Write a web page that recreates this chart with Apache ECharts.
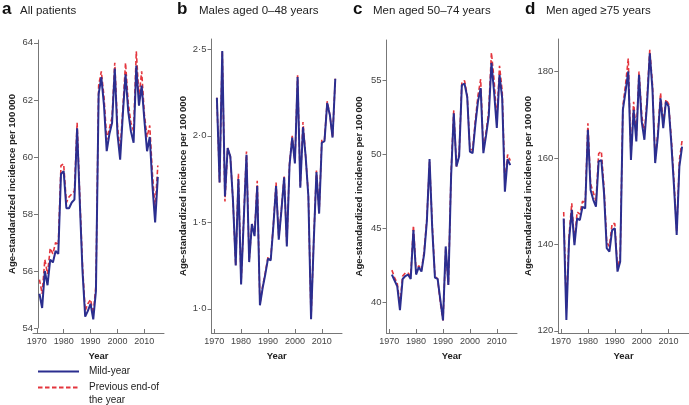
<!DOCTYPE html>
<html>
<head>
<meta charset="utf-8">
<title>Age-standardized incidence</title>
<script src="https://cdn.jsdelivr.net/npm/echarts@6.0.0/dist/echarts.min.js"></script>
<style>
    html, body { margin: 0; padding: 0; background: #fff; }
    #chart { width: 689px; height: 405px; }
</style>
</head>
<body>
<div id="chart"></div>
<script>
// years of observation (shared by every panel)
const years = [1971, 1972, 1973, 1974, 1975, 1976, 1977, 1978, 1979, 1980,
    1981, 1982, 1983, 1984, 1985, 1986, 1987, 1988, 1989, 1990,
    1991, 1992, 1993, 1994, 1995, 1996, 1997, 1998, 1999, 2000,
    2001, 2002, 2003, 2004, 2005, 2006, 2007, 2008, 2009, 2010,
    2011, 2012, 2013, 2014, 2015];
const yearTicks = [1970, 1980, 1990, 2000, 2010];

// a - all patients
const allMid = [55.2, 54.7, 56.0, 55.5, 56.4, 56.3, 56.7, 56.6, 59.4, 59.5,
    58.2, 58.2, 58.4, 58.5, 61.0, 58.4, 56.0, 54.4, 54.6, 54.85,
    54.3, 55.3, 62.2, 62.8, 61.8, 60.2, 60.8, 61.2, 63.1, 60.8,
    59.9, 61.5, 62.9, 61.6, 60.9, 60.5, 63.2, 61.8, 62.5, 61.3,
    60.2, 60.7, 59.0, 57.7, 59.3];
const allPrev = [55.7, 55.2, 56.4, 55.9, 56.8, 56.6, 57.0, 56.9, 59.7, 59.75,
    58.4, 58.6, 58.7, 58.8, 61.2, 58.6, 56.2, 54.6, 54.85, 55.0,
    54.5, 55.5, 62.5, 63.0, 62.1, 60.6, 61.0, 61.4, 63.3, 61.1,
    60.2, 61.7, 63.3, 61.9, 61.2, 60.9, 63.7, 62.1, 63.0, 61.5,
    60.7, 61.1, 59.4, 58.2, 59.7];
const allTicks = [54, 56, 58, 60, 62, 64];

// b - males aged 0-48
const youngMid = [2.22, 1.73, 2.49, 1.65, 1.93, 1.88, 1.62, 1.25, 1.75, 1.14,
    1.52, 1.89, 1.27, 1.49, 1.42, 1.71, 1.02, 1.12, 1.20, 1.29,
    1.28, 1.48, 1.71, 1.40, 1.57, 1.76, 1.36, 1.83, 1.99, 1.84,
    2.34, 1.70, 2.05, 1.88, 1.65, 0.94, 1.39, 1.79, 1.55, 1.96,
    1.97, 2.19, 2.12, 1.99, 2.33];
const youngPrev = [2.22, 1.73, 2.49, 1.62, 1.93, 1.88, 1.62, 1.25, 1.78, 1.15,
    1.53, 1.91, 1.28, 1.49, 1.43, 1.74, 1.03, 1.13, 1.21, 1.30,
    1.29, 1.49, 1.73, 1.41, 1.58, 1.77, 1.37, 1.84, 2.00, 1.85,
    2.35, 1.71, 2.08, 1.88, 1.66, 0.95, 1.40, 1.80, 1.56, 1.98,
    1.98, 2.20, 2.12, 1.99, 2.33];
const youngTicks = [1.0, 1.5, 2.0, 2.5];

// c - men aged 50-74
const midMid = [41.9, 41.5, 41.1, 39.5, 41.6, 41.8, 41.9, 41.6, 44.9, 41.9,
    42.4, 42.1, 43.3, 45.5, 49.7, 45.0, 41.7, 41.6, 40.2, 38.8,
    43.8, 41.2, 48.5, 52.8, 49.2, 49.9, 54.7, 54.8, 53.9, 50.2,
    50.1, 52.0, 53.6, 54.5, 50.1, 51.3, 52.6, 56.2, 54.2, 51.8,
    55.4, 53.8, 47.5, 49.7, 49.3];
const midPrev = [42.2, 41.7, 41.3, 39.9, 41.8, 42.0, 42.0, 41.8, 45.2, 42.1,
    42.5, 42.2, 43.5, 45.7, 49.5, 45.3, 41.8, 41.6, 40.0, 38.8,
    43.6, 41.2, 48.8, 53.0, 49.2, 50.1, 54.9, 55.0, 54.0, 50.4,
    50.3, 52.3, 54.0, 55.1, 50.3, 51.5, 53.0, 56.9, 55.0, 52.3,
    56.0, 54.3, 48.0, 50.0, 49.6];
const midTicks = [40, 45, 50, 55];

// d - men aged >=75
const oldMid = [146.0, 122.5, 141.0, 148.0, 139.8, 146.0, 145.6, 148.7, 148.3, 166.5,
    152.6, 150.3, 148.7, 159.2, 159.5, 151.8, 139.1, 138.3, 143.3, 143.7,
    133.7, 136.0, 171.1, 175.4, 180.0, 159.5, 171.1, 163.8, 179.2, 168.4,
    164.2, 172.7, 184.2, 175.8, 158.8, 165.0, 173.8, 166.9, 173.0, 171.9,
    163.4, 153.4, 142.2, 158.0, 162.6];
const oldPrev = [147.5, 125.0, 142.0, 149.5, 140.5, 147.5, 147.0, 150.0, 149.5, 168.0,
    154.0, 152.0, 150.0, 161.0, 161.5, 153.0, 140.5, 139.5, 144.8, 144.8,
    134.5, 137.0, 172.0, 177.0, 183.0, 160.5, 173.0, 165.0, 180.0, 170.0,
    165.5, 174.0, 185.0, 177.0, 159.5, 166.0, 175.0, 168.0, 173.5, 172.5,
    164.5, 154.5, 143.0, 159.5, 164.0];
const oldTicks = [120, 140, 160, 180];

const MID_NAME = 'Mild-year';
const PREV_NAME = 'Previous end-of the year';
const BLUE = '#2b2e8f';
const RED = '#e4353d';
const FONT = '"Liberation Sans", Arial, sans-serif';

// panel layout: grid box + axis ranges
const panels = [
    { letter: 'a', title: 'All patients', lx: 2, tx: 20, mid: allMid, prev: allPrev, ticks: allTicks,
      grid: { left: 33, top: 40, width: 131, height: 288 }, xMin: 1968.6, xMax: 2017.3,
      yMin: 54, yMax: 64.1, yOffset: -5, xOffset: 5, nameGap: 21, fmt: v => String(v) },
    { letter: 'b', title: 'Males aged 0\u201348 years', lx: 177, tx: 199, mid: youngMid, prev: youngPrev, ticks: youngTicks,
      grid: { left: 211.5, top: 39, width: 130.5, height: 294 }, xMin: 1969, xMax: 2017.5,
      yMin: 0.86, yMax: 2.56, yOffset: 0, xOffset: 0, nameGap: 22, fmt: v => v.toFixed(1).replace('.', '\u00b7') },
    { letter: 'c', title: 'Men aged 50\u201374 years', lx: 353, tx: 373, mid: midMid, prev: midPrev, ticks: midTicks,
      grid: { left: 386.5, top: 40, width: 130.5, height: 293 }, xMin: 1969, xMax: 2017.5,
      yMin: 37.95, yMax: 57.75, yOffset: 0, xOffset: 0, nameGap: 22, fmt: v => String(v) },
    { letter: 'd', title: 'Men aged \u226575 years', lx: 525, tx: 546, mid: oldMid, prev: oldPrev, ticks: oldTicks,
      grid: { left: 558.3, top: 39, width: 130.5, height: 294 }, xMin: 1969, xMax: 2017.5,
      yMin: 119.5, yMax: 187.5, yOffset: 0, xOffset: 0, nameGap: 20, fmt: v => String(v) }
];

const toPairs = vals => years.map((y, i) => [y, vals[i]]);

const titles = [];
const grids = [];
const xAxes = [];
const yAxes = [];
const series = [];

panels.forEach((p, i) => {
    titles.push({
        text: p.letter, left: p.lx, top: 1, padding: 0,
        textStyle: { fontSize: 17, fontWeight: 'bold', color: '#111', fontFamily: FONT }
    });
    titles.push({
        text: p.title, left: p.tx, top: 5, padding: 0,
        textStyle: { fontSize: 11.5, fontWeight: 'normal', color: '#222', fontFamily: FONT }
    });

    grids.push(Object.assign({ containLabel: false }, p.grid));

    xAxes.push({
        type: 'value', gridIndex: i, min: p.xMin, max: p.xMax, offset: p.xOffset,
        name: 'Year', nameLocation: 'middle', nameGap: 17,
        nameTextStyle: { fontSize: 9.5, fontWeight: 'bold', color: '#222', fontFamily: FONT },
        axisLine: { show: true, onZero: false, lineStyle: { color: '#777', width: 1 } },
        axisTick: { show: true, inside: true, length: 4, customValues: yearTicks, lineStyle: { color: '#777' } },
        axisLabel: { customValues: yearTicks, fontSize: 9, color: '#444', margin: 4, fontFamily: FONT,
                     formatter: v => String(v) },
        splitLine: { show: false }
    });

    yAxes.push({
        type: 'value', gridIndex: i, min: p.yMin, max: p.yMax, offset: p.yOffset,
        name: 'Age-standardized incidence per 100\u2009000', nameLocation: 'middle', nameGap: p.nameGap,
        nameTextStyle: { fontSize: 9.5, fontWeight: 'bold', color: '#222', fontFamily: FONT },
        axisLine: { show: true, onZero: false, lineStyle: { color: '#777', width: 1 } },
        axisTick: { show: true, length: 4, customValues: p.ticks, lineStyle: { color: '#777' } },
        axisLabel: { customValues: p.ticks, fontSize: 9.5, color: '#444', margin: 5, fontFamily: FONT, formatter: p.fmt },
        splitLine: { show: false }
    });

    // previous end-of-year estimate (dashed, underneath)
    series.push({
        name: PREV_NAME, type: 'line', xAxisIndex: i, yAxisIndex: i,
        data: toPairs(p.prev), symbol: 'none', z: 2,
        lineStyle: { color: RED, width: 1.6, type: [4.5, 2.5] }, itemStyle: { color: RED }
    });
    // mid-year estimate
    series.push({
        name: MID_NAME, type: 'line', xAxisIndex: i, yAxisIndex: i,
        data: toPairs(p.mid), symbol: 'none', z: 3,
        lineStyle: { color: BLUE, width: 2 }, itemStyle: { color: BLUE }
    });
});

// legend: line-only keys (hide the marker circle)
const legendBase = {
    left: 37, padding: 0, itemWidth: 41, itemHeight: 10,
    itemStyle: { opacity: 0, borderWidth: 0 }
};

const chart = echarts.init(document.getElementById('chart'), null, { renderer: 'canvas' });
chart.setOption({
    animation: false,
    backgroundColor: '#fff',
    textStyle: { fontFamily: FONT },
    title: titles,
    grid: grids,
    xAxis: xAxes,
    yAxis: yAxes,
    legend: [
        Object.assign({}, legendBase, {
            data: [MID_NAME], top: 366.5,
            textStyle: { fontSize: 10, color: '#222', padding: [0, 0, 0, 5], fontFamily: FONT }
        }),
        Object.assign({}, legendBase, {
            data: [PREV_NAME], top: 368.5,
            formatter: () => '\nPrevious end-of\nthe year',
            textStyle: { fontSize: 10, color: '#222', lineHeight: 12.6, padding: [0, 0, 0, 5], fontFamily: FONT }
        })
    ],
    series: series
});
</script>
</body>
</html>
